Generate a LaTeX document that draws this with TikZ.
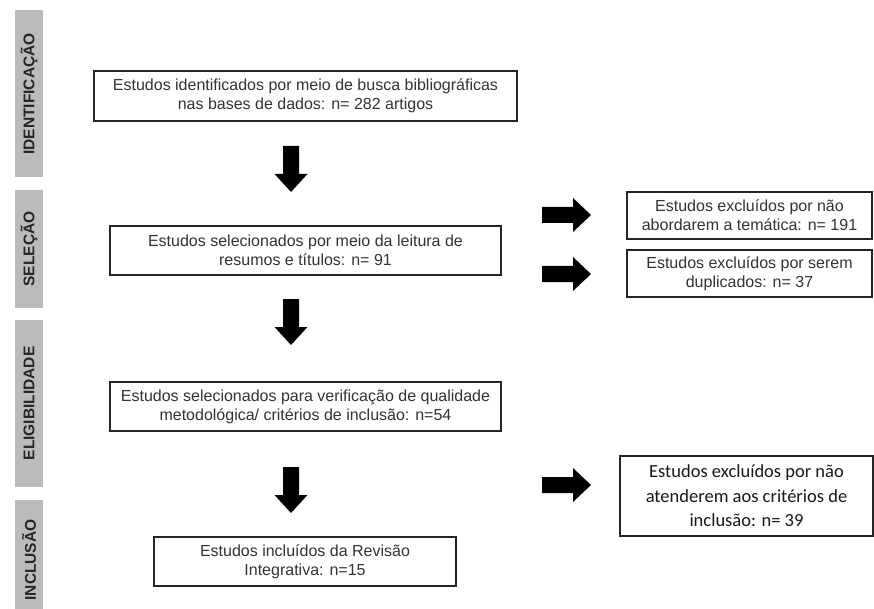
\documentclass[tikz,border=0pt]{standalone}
\usepackage{fontspec}
\setmainfont{Liberation Sans}
\newfontfamily\calibrifont{Carlito}
\definecolor{txt}{HTML}{333333}
\definecolor{labfill}{HTML}{BBBBBB}
\begin{document}
\begin{tikzpicture}[x=1pt,y=-1pt,
  box/.style={draw=black!85, line width=1.3pt, fill=white, align=center, inner sep=0pt,
    text=txt, font=\fontsize{16}{19}\selectfont},
  stagelab/.style={fill=labfill, inner sep=0pt, text=black!85,
    font=\bfseries\fontsize{15.5}{18}\selectfont},
  downarrow/.pic={\fill[black] (-8,0) -- (8,0) -- (8,28) -- (16.5,28) -- (0,46) -- (-16.5,28) -- (-8,28) -- cycle;},
  rightarrow/.pic={\fill[black] (0,-8) -- (31,-8) -- (31,-17) -- (49,0) -- (31,17) -- (31,8) -- (0,8) -- cycle;}
]
\useasboundingbox (0,0) rectangle (874,609);
\fill[white] (0,0) rectangle (874,609);

% stage labels
\fill[labfill] (15,10) rectangle (43,177);
\fill[labfill] (15,190) rectangle (43,308);
\fill[labfill] (15,320) rectangle (43,487);
\fill[labfill] (15,500) rectangle (43,609);
\node[stagelab, rotate=90] (l1) at (29,94) {IDENTIFICAÇÃO};
\node[stagelab, rotate=90] (l2) at (29,249) {SELEÇÃO};
\node[stagelab, rotate=90] (l3) at (29,403.5) {ELIGIBILIDADE};
\node[stagelab, rotate=90] (l4) at (29,560) {INCLUSÃO};

% main boxes
\node[box, minimum width=423pt, minimum height=50pt] (b1) at (305.5,96)
  {Estudos identificados por meio de busca bibliográficas\\nas bases de dados: n= 282 artigos};
\node[box, minimum width=391pt, minimum height=49pt] (b2) at (305.5,250.5)
  {Estudos selecionados por meio da leitura de\\resumos e títulos: n= 91};
\node[box, minimum width=391pt, minimum height=49pt] (b3) at (305.5,406.5)
  {Estudos selecionados para verificação de qualidade\\metodológica/ critérios de inclusão: n=54};
\node[box, minimum width=302pt, minimum height=49pt] (b4) at (305,561.5)
  {Estudos incluídos da Revisão\\Integrativa: n=15};

% right boxes
\node[box, minimum width=245pt, minimum height=47pt] (r1) at (749.5,215.5)
  {Estudos excluídos por não\\abordarem a temática: n= 191};
\node[box, minimum width=245pt, minimum height=47pt] (r2) at (749.5,273.5)
  {Estudos excluídos por serem\\duplicados: n= 37};
\node[box, minimum width=253pt, minimum height=80pt,
  font=\calibrifont\fontsize{18.5}{24.5}\selectfont, text=black!90] (r3) at (746.5,496)
  {Estudos excluídos por não\\atenderem aos critérios de\\inclusão: n= 39};

% block arrows
\pic at (291,146) {downarrow};
\pic at (291,299) {downarrow};
\pic at (291,467) {downarrow};
\pic at (542,215) {rightarrow};
\pic at (542,274) {rightarrow};
\pic at (542,485) {rightarrow};
\end{tikzpicture}
\end{document}
